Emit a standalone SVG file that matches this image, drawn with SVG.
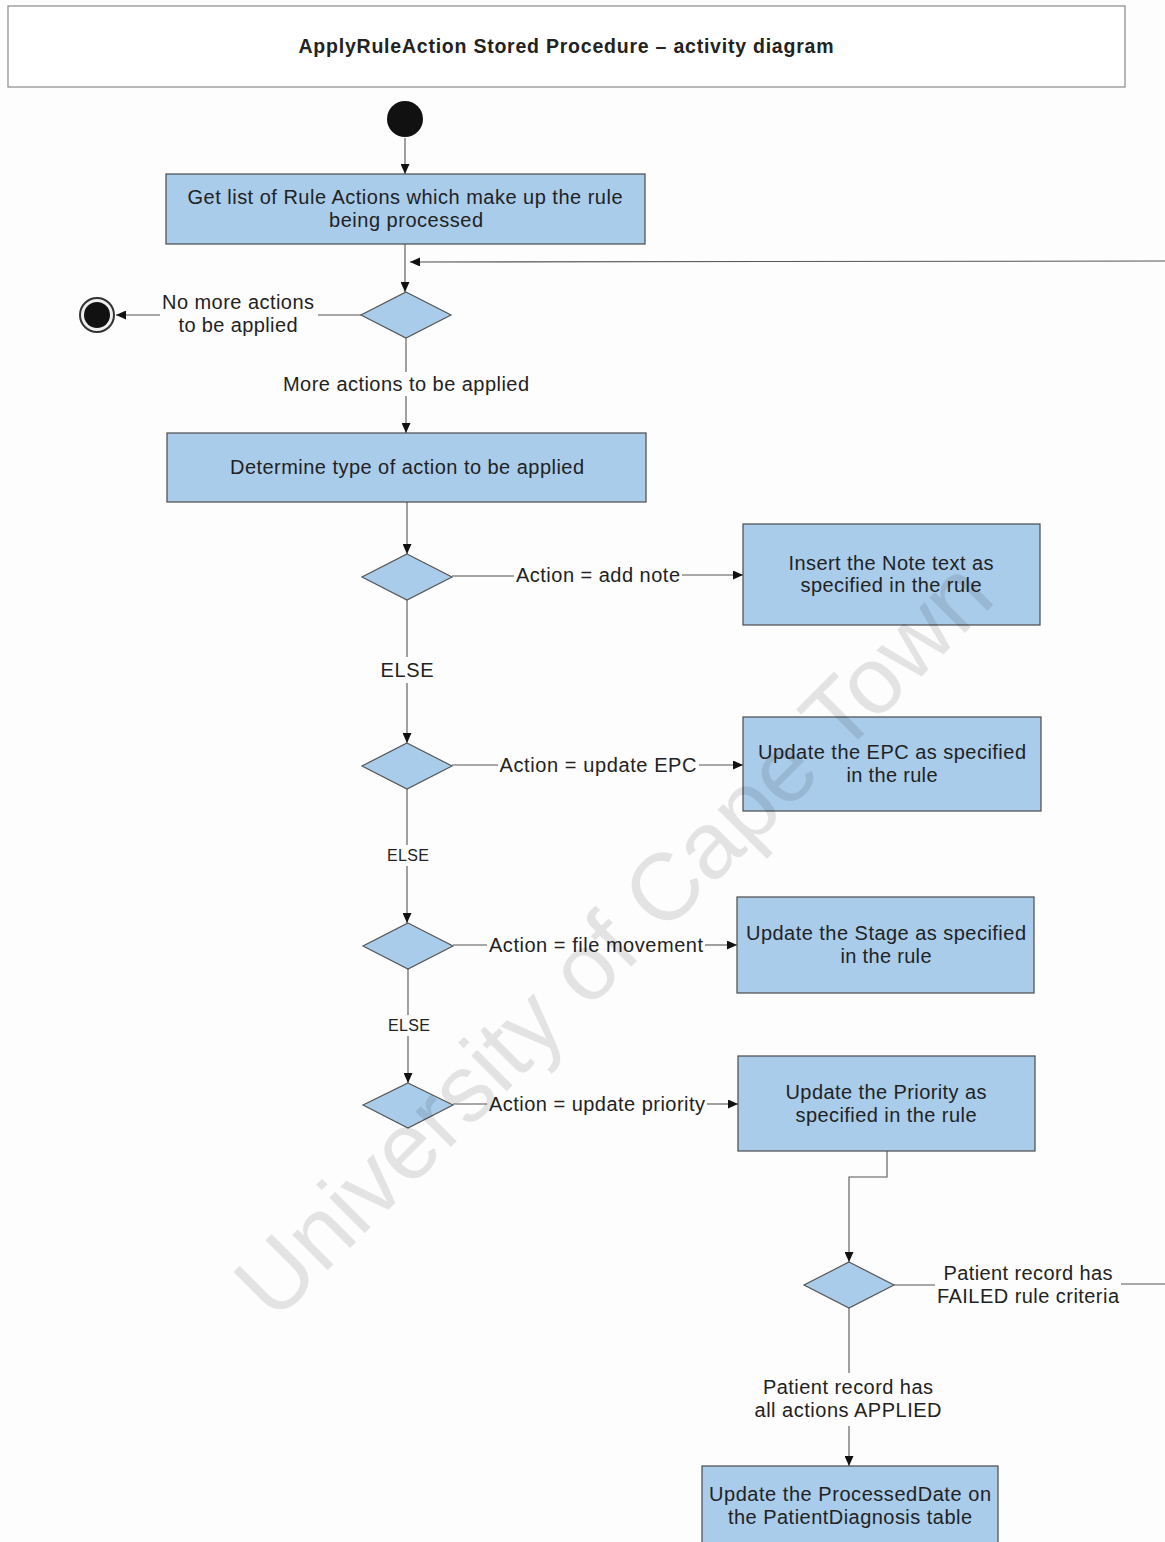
<svg xmlns="http://www.w3.org/2000/svg" width="1165" height="1542" viewBox="0 0 1165 1542">
  <style>
    .box { fill: #a9cceb; stroke: #4a4a4a; stroke-width: 1.2; }
    .dia { fill: #a9cceb; stroke: #555; stroke-width: 1.2; }
    .t { font-family: "Liberation Sans", Arial, sans-serif; font-size: 20px; fill: #222; text-anchor: middle; }
    .s { font-size: 16px; }
    .title { font-family: "Liberation Sans", Arial, sans-serif; font-size: 19.5px; font-weight: bold; fill: #222; text-anchor: middle; }
    .ln { fill: none; stroke: #555; stroke-width: 1.1; }
    .mark { font-family: "Liberation Sans", Arial, sans-serif; font-size: 95px; fill: #000; fill-opacity: 0.1; text-anchor: middle; }
  </style>
  <defs>
    <marker id="arr" markerUnits="userSpaceOnUse" markerWidth="10" markerHeight="9" refX="10" refY="4.5" orient="auto">
      <path d="M0,0 L10,4.5 L0,9 z" fill="#111"/>
    </marker>
  </defs>

  <rect x="0" y="0" width="1165" height="1542" fill="#fdfdfd"/>

  <!-- title frame -->
  <g id="title">
    <rect x="8" y="6" width="1117" height="81" fill="#fff" stroke="#8a8a8a" stroke-width="1.2"/>
    <text class="title" x="566" y="53" textLength="535" lengthAdjust="spacing">ApplyRuleAction Stored Procedure – activity diagram</text>
  </g>

  <!-- connectors -->
  <g id="connectors">
    <line class="ln" x1="405" y1="138" x2="405" y2="174" marker-end="url(#arr)"/>
    <line class="ln" x1="405" y1="244" x2="405" y2="292" marker-end="url(#arr)"/>
    <line class="ln" x1="1165" y1="261" x2="410" y2="262" marker-end="url(#arr)"/>
    <line class="ln" x1="361" y1="315" x2="318" y2="315"/>
    <line class="ln" x1="160" y1="315" x2="116" y2="315" marker-end="url(#arr)"/>
    <line class="ln" x1="406" y1="338" x2="406" y2="372"/>
    <line class="ln" x1="406" y1="396" x2="406" y2="433" marker-end="url(#arr)"/>
    <line class="ln" x1="407" y1="502" x2="407" y2="554" marker-end="url(#arr)"/>
    <line class="ln" x1="452" y1="576" x2="514" y2="576"/>
    <line class="ln" x1="682" y1="575" x2="743" y2="575" marker-end="url(#arr)"/>
    <line class="ln" x1="407" y1="600" x2="407" y2="657"/>
    <line class="ln" x1="407" y1="683" x2="407" y2="743" marker-end="url(#arr)"/>
    <line class="ln" x1="452" y1="765" x2="498" y2="765"/>
    <line class="ln" x1="699" y1="765" x2="743" y2="765" marker-end="url(#arr)"/>
    <line class="ln" x1="407" y1="789" x2="407" y2="845"/>
    <line class="ln" x1="407" y1="866" x2="407" y2="923" marker-end="url(#arr)"/>
    <line class="ln" x1="453" y1="945" x2="487" y2="945"/>
    <line class="ln" x1="705" y1="945" x2="737" y2="945" marker-end="url(#arr)"/>
    <line class="ln" x1="408" y1="969" x2="408" y2="1015"/>
    <line class="ln" x1="408" y1="1036" x2="408" y2="1083" marker-end="url(#arr)"/>
    <line class="ln" x1="453" y1="1104" x2="487" y2="1104"/>
    <line class="ln" x1="707" y1="1104" x2="738" y2="1104" marker-end="url(#arr)"/>
    <polyline class="ln" points="887,1151 887,1177 849,1177 849,1262" marker-end="url(#arr)"/>
    <line class="ln" x1="894" y1="1285" x2="935" y2="1285"/>
    <line class="ln" x1="1121" y1="1284" x2="1165" y2="1284"/>
    <line class="ln" x1="849" y1="1308" x2="849" y2="1373" stroke="#aaa" stroke-width="2"/>
    <line class="ln" x1="849" y1="1426" x2="849" y2="1466" marker-end="url(#arr)"/>
  </g>

  <!-- connector labels -->
  <g id="labels">
    <text class="t" x="238" y="309" textLength="152" lengthAdjust="spacing">No more actions</text>
    <text class="t" x="238" y="332" textLength="119" lengthAdjust="spacing">to be applied</text>
    <text class="t" x="406" y="391" textLength="246" lengthAdjust="spacing">More actions to be applied</text>
    <text class="t" x="598" y="582" textLength="164" lengthAdjust="spacing">Action = add note</text>
    <text class="t" x="407" y="677" textLength="53" lengthAdjust="spacing">ELSE</text>
    <text class="t" x="598" y="772" textLength="197" lengthAdjust="spacing">Action = update EPC</text>
    <text class="t s" x="408" y="861" textLength="42" lengthAdjust="spacing">ELSE</text>
    <text class="t" x="596" y="952" textLength="214" lengthAdjust="spacing">Action = file movement</text>
    <text class="t s" x="409" y="1031" textLength="42" lengthAdjust="spacing">ELSE</text>
    <text class="t" x="597" y="1111" textLength="216" lengthAdjust="spacing">Action = update priority</text>
    <text class="t" x="1028" y="1280" textLength="169" lengthAdjust="spacing">Patient record has</text>
    <text class="t" x="1028" y="1303" textLength="182" lengthAdjust="spacing">FAILED rule criteria</text>
    <text class="t" x="848" y="1394" textLength="170" lengthAdjust="spacing">Patient record has</text>
    <text class="t" x="848" y="1417" textLength="187" lengthAdjust="spacing">all actions APPLIED</text>
  </g>

  <!-- start / end -->
  <g id="start">
    <circle cx="405" cy="119" r="18" fill="#111"/>
  </g>
  <g id="end">
    <circle cx="97" cy="315" r="17" fill="#eee" stroke="#333" stroke-width="2"/>
    <circle cx="97" cy="315" r="13" fill="#111"/>
  </g>

  <!-- actions -->
  <g id="getRuleActions">
    <rect class="box" x="166" y="174" width="479" height="70"/>
    <text class="t" x="405" y="204" textLength="435" lengthAdjust="spacing">Get list of Rule Actions which make up the rule</text>
    <text class="t" x="406" y="227" textLength="154" lengthAdjust="spacing">being processed</text>
  </g>
  <g id="determineType">
    <rect class="box" x="167" y="433" width="479" height="69"/>
    <text class="t" x="407" y="474" textLength="354" lengthAdjust="spacing">Determine type of action to be applied</text>
  </g>
  <g id="insertNote">
    <rect class="box" x="743" y="524" width="297" height="101"/>
    <text class="t" x="891" y="570" textLength="205" lengthAdjust="spacing">Insert the Note text as</text>
    <text class="t" x="891" y="592" textLength="181" lengthAdjust="spacing">specified in the rule</text>
  </g>
  <g id="updateEPC">
    <rect class="box" x="743" y="717" width="298" height="94"/>
    <text class="t" x="892" y="759" textLength="268" lengthAdjust="spacing">Update the EPC as specified</text>
    <text class="t" x="892" y="782" textLength="91" lengthAdjust="spacing">in the rule</text>
  </g>
  <g id="updateStage">
    <rect class="box" x="737" y="897" width="297" height="96"/>
    <text class="t" x="886" y="940" textLength="280" lengthAdjust="spacing">Update the Stage as specified</text>
    <text class="t" x="886" y="963" textLength="91" lengthAdjust="spacing">in the rule</text>
  </g>
  <g id="updatePriority">
    <rect class="box" x="738" y="1056" width="297" height="95"/>
    <text class="t" x="886" y="1099" textLength="201" lengthAdjust="spacing">Update the Priority as</text>
    <text class="t" x="886" y="1122" textLength="181" lengthAdjust="spacing">specified in the rule</text>
  </g>
  <g id="updateProcessedDate">
    <rect class="box" x="702" y="1466" width="296" height="90"/>
    <text class="t" x="850" y="1501" textLength="282" lengthAdjust="spacing">Update the ProcessedDate on</text>
    <text class="t" x="850" y="1524" textLength="244" lengthAdjust="spacing">the PatientDiagnosis table</text>
  </g>

  <!-- decisions -->
  <g id="moreActions"><polygon class="dia" points="406,292 451,315 406,338 361,315"/></g>
  <g id="isAddNote"><polygon class="dia" points="407,554 452,577 407,600 362,577"/></g>
  <g id="isUpdateEPC"><polygon class="dia" points="407,743 452,766 407,789 362,766"/></g>
  <g id="isFileMovement"><polygon class="dia" points="408,923 453,946 408,969 363,946"/></g>
  <g id="isUpdatePriority"><polygon class="dia" points="408,1083 453,1105 408,1128 363,1105"/></g>
  <g id="ruleOutcome"><polygon class="dia" points="849,1262 894,1285 849,1308 804,1285"/></g>

  <!-- watermark -->
  <text class="mark" x="0" y="0" transform="translate(636,962) rotate(-45)">University of Cape Town</text>
</svg>
